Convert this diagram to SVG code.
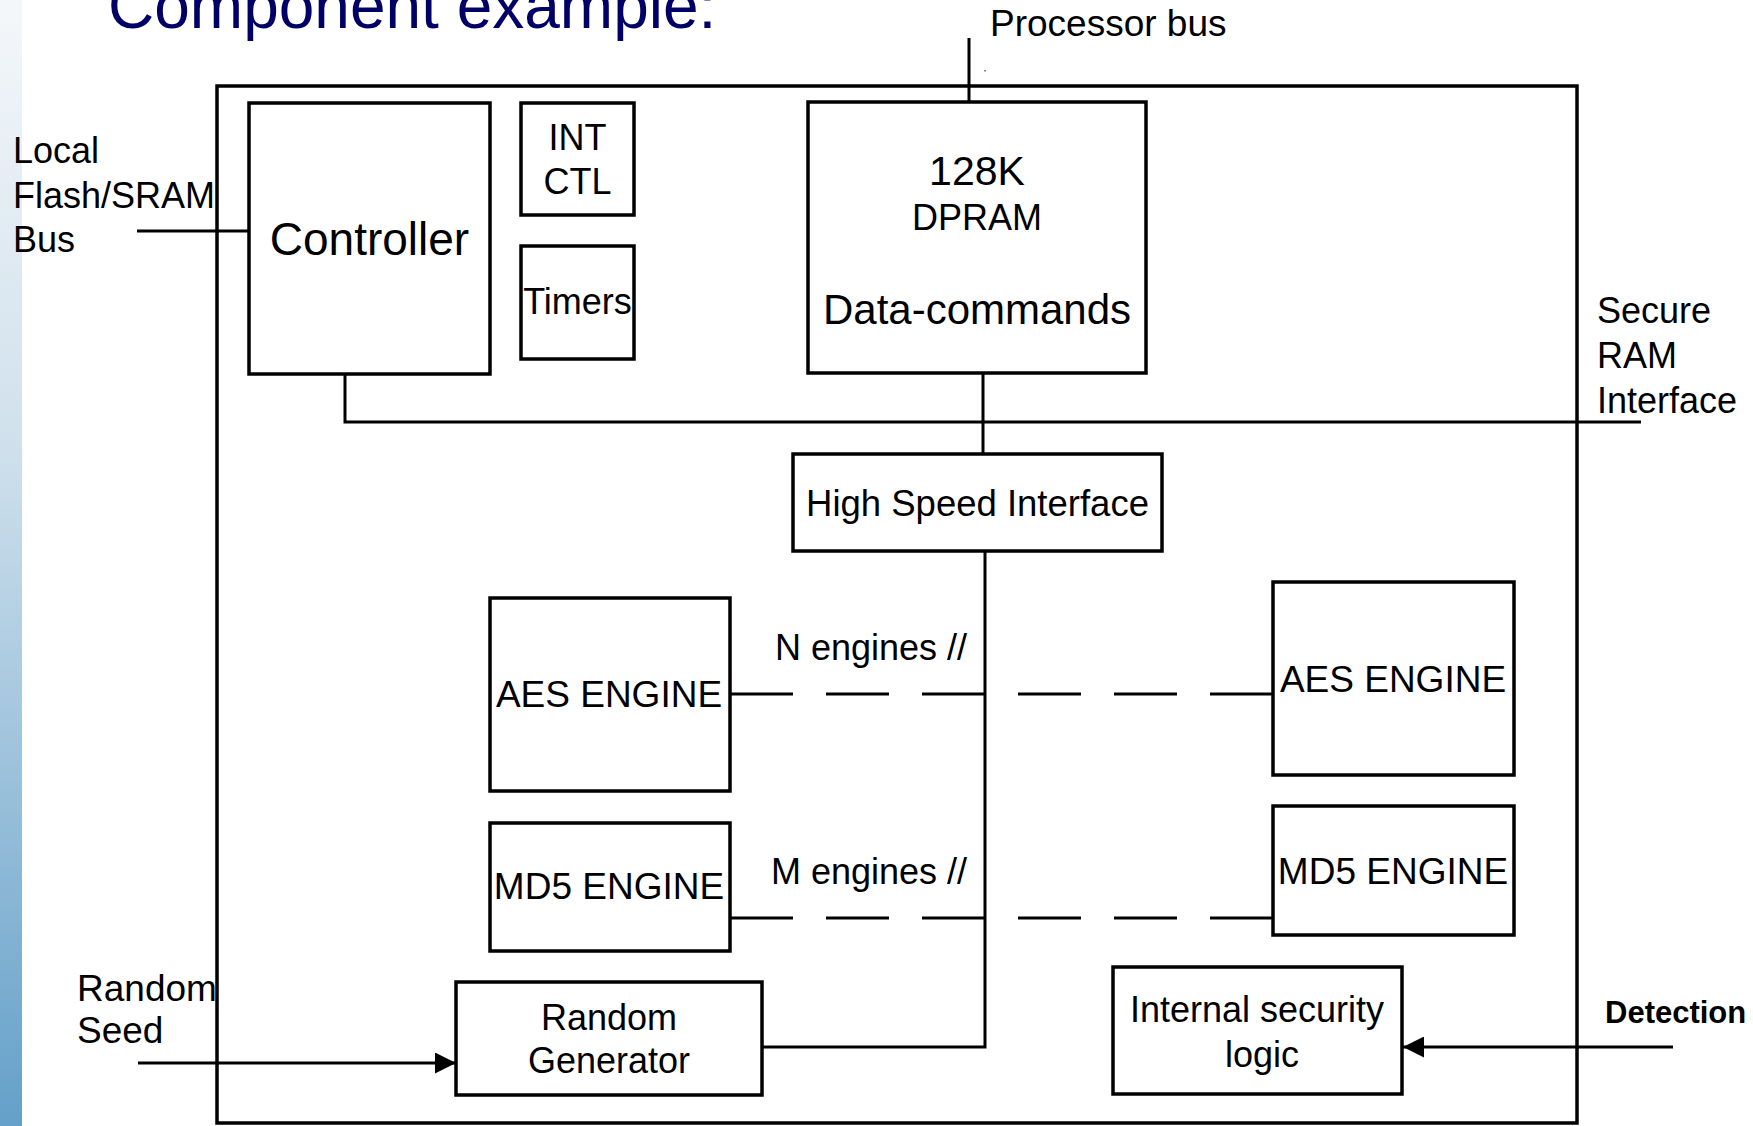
<svg xmlns="http://www.w3.org/2000/svg" width="1753" height="1126" viewBox="0 0 1753 1126">
  <defs>
    <linearGradient id="strip" x1="0" y1="0" x2="0" y2="1">
      <stop offset="0" stop-color="#f4f7fa"/>
      <stop offset="0.4" stop-color="#cfe0ec"/>
      <stop offset="1" stop-color="#64a0c9"/>
    </linearGradient>
    <marker id="head" viewBox="0 0 21 21" refX="21" refY="10.5" markerWidth="21" markerHeight="21" markerUnits="userSpaceOnUse" orient="auto">
      <path d="M0,0 L21,10.5 L0,21 Z" fill="#000"/>
    </marker>
    <style>
      .box { fill: #fff; stroke: #000; stroke-width: 3.5; }
      .frame { fill: none; stroke: #000; stroke-width: 3.5; }
      .wire { fill: none; stroke: #000; stroke-width: 3; }
      .dash { fill: none; stroke: #000; stroke-width: 3; stroke-dasharray: 63 33; }
      .t { font-family: "Liberation Sans", Arial, sans-serif; font-size: 36px; fill: #000; }
      .c { text-anchor: middle; }
      .title { font-family: "Liberation Sans", Arial, sans-serif; font-size: 64px; fill: #000066; }
      .bold { font-weight: bold; font-size: 31px; }
    </style>
  </defs>

  <rect width="1753" height="1126" fill="#fff"/>
  <!-- slide side band -->
  <rect x="0" y="0" width="22" height="1126" fill="url(#strip)"/>

  <text class="title" x="108" y="28">Component example:</text>

  <!-- chip boundary -->
  <rect id="chip" class="frame" x="217" y="86" width="1360" height="1037"/>

  <!-- connectors -->
  <g id="connectors">
    <line class="wire" x1="137" y1="231" x2="249" y2="231"/>
    <line class="wire" x1="969" y1="38" x2="969" y2="102"/>
    <rect x="984" y="70" width="2" height="1.5" fill="#888"/>
    <polyline class="wire" points="345,374 345,422 1641,422"/>
    <line class="wire" x1="983" y1="373" x2="983" y2="454"/>
    <polyline class="wire" points="985,551 985,1047 762,1047"/>
    <line class="dash" x1="730" y1="694" x2="1273" y2="694"/>
    <line class="dash" x1="730" y1="918" x2="1273" y2="918"/>
    <line class="wire" x1="138" y1="1063" x2="456" y2="1063" marker-end="url(#head)"/>
    <line class="wire" x1="1673" y1="1047" x2="1403" y2="1047" marker-end="url(#head)"/>
  </g>

  <!-- external signal labels -->
  <g id="label-local-bus">
    <text class="t" x="13" y="163">Local</text>
    <text class="t" x="13" y="208">Flash/SRAM</text>
    <text class="t" x="13" y="252">Bus</text>
  </g>
  <text id="label-processor-bus" class="t" x="990" y="36" style="font-size:37px">Processor bus</text>
  <g id="label-secure-ram">
    <text class="t" x="1597" y="323">Secure</text>
    <text class="t" x="1597" y="368">RAM</text>
    <text class="t" x="1597" y="413">Interface</text>
  </g>
  <text class="t" x="967" y="660" text-anchor="end">N engines //</text>
  <text class="t" x="967" y="884" text-anchor="end">M engines //</text>
  <g id="label-random-seed">
    <text class="t" x="77" y="1001" style="font-size:37px">Random</text>
    <text class="t" x="77" y="1043" style="font-size:37px">Seed</text>
  </g>
  <text id="label-detection" class="t bold" x="1605" y="1023">Detection</text>

  <!-- blocks -->
  <g id="controller">
    <rect class="box" x="249" y="103" width="241" height="271"/>
    <text class="t c" x="369.5" y="255" style="font-size:46px">Controller</text>
  </g>
  <g id="int-ctl">
    <rect class="box" x="521" y="103" width="113" height="112"/>
    <text class="t c" x="577.5" y="150">INT</text>
    <text class="t c" x="577.5" y="194">CTL</text>
  </g>
  <g id="timers">
    <rect class="box" x="521" y="246" width="113" height="113"/>
    <text class="t c" x="577.5" y="314">Timers</text>
  </g>
  <g id="dpram">
    <rect class="box" x="808" y="102" width="338" height="271"/>
    <text class="t c" x="977" y="185" style="font-size:41px">128K</text>
    <text class="t c" x="977" y="230">DPRAM</text>
    <text class="t c" x="977" y="324" style="font-size:42px">Data-commands</text>
  </g>
  <g id="high-speed-interface">
    <rect class="box" x="793" y="454" width="369" height="97"/>
    <text class="t c" x="977.5" y="516" style="font-size:36.5px">High Speed Interface</text>
  </g>
  <g id="aes-engine-1">
    <rect class="box" x="490" y="598" width="240" height="193"/>
    <text class="t c" x="609" y="707" style="font-size:37px">AES ENGINE</text>
  </g>
  <g id="aes-engine-n">
    <rect class="box" x="1273" y="582" width="241" height="193"/>
    <text class="t c" x="1393" y="692" style="font-size:37px">AES ENGINE</text>
  </g>
  <g id="md5-engine-1">
    <rect class="box" x="490" y="823" width="240" height="128"/>
    <text class="t c" x="609" y="899" style="font-size:37px">MD5 ENGINE</text>
  </g>
  <g id="md5-engine-m">
    <rect class="box" x="1273" y="806" width="241" height="129"/>
    <text class="t c" x="1393" y="884" style="font-size:37px">MD5 ENGINE</text>
  </g>
  <g id="random-generator">
    <rect class="box" x="456" y="982" width="306" height="113"/>
    <text class="t c" x="609" y="1030">Random</text>
    <text class="t c" x="609" y="1073">Generator</text>
  </g>
  <g id="internal-security-logic">
    <rect class="box" x="1113" y="967" width="289" height="127"/>
    <text class="t c" x="1257" y="1022">Internal security</text>
    <text class="t c" x="1262" y="1067">logic</text>
  </g>
</svg>
